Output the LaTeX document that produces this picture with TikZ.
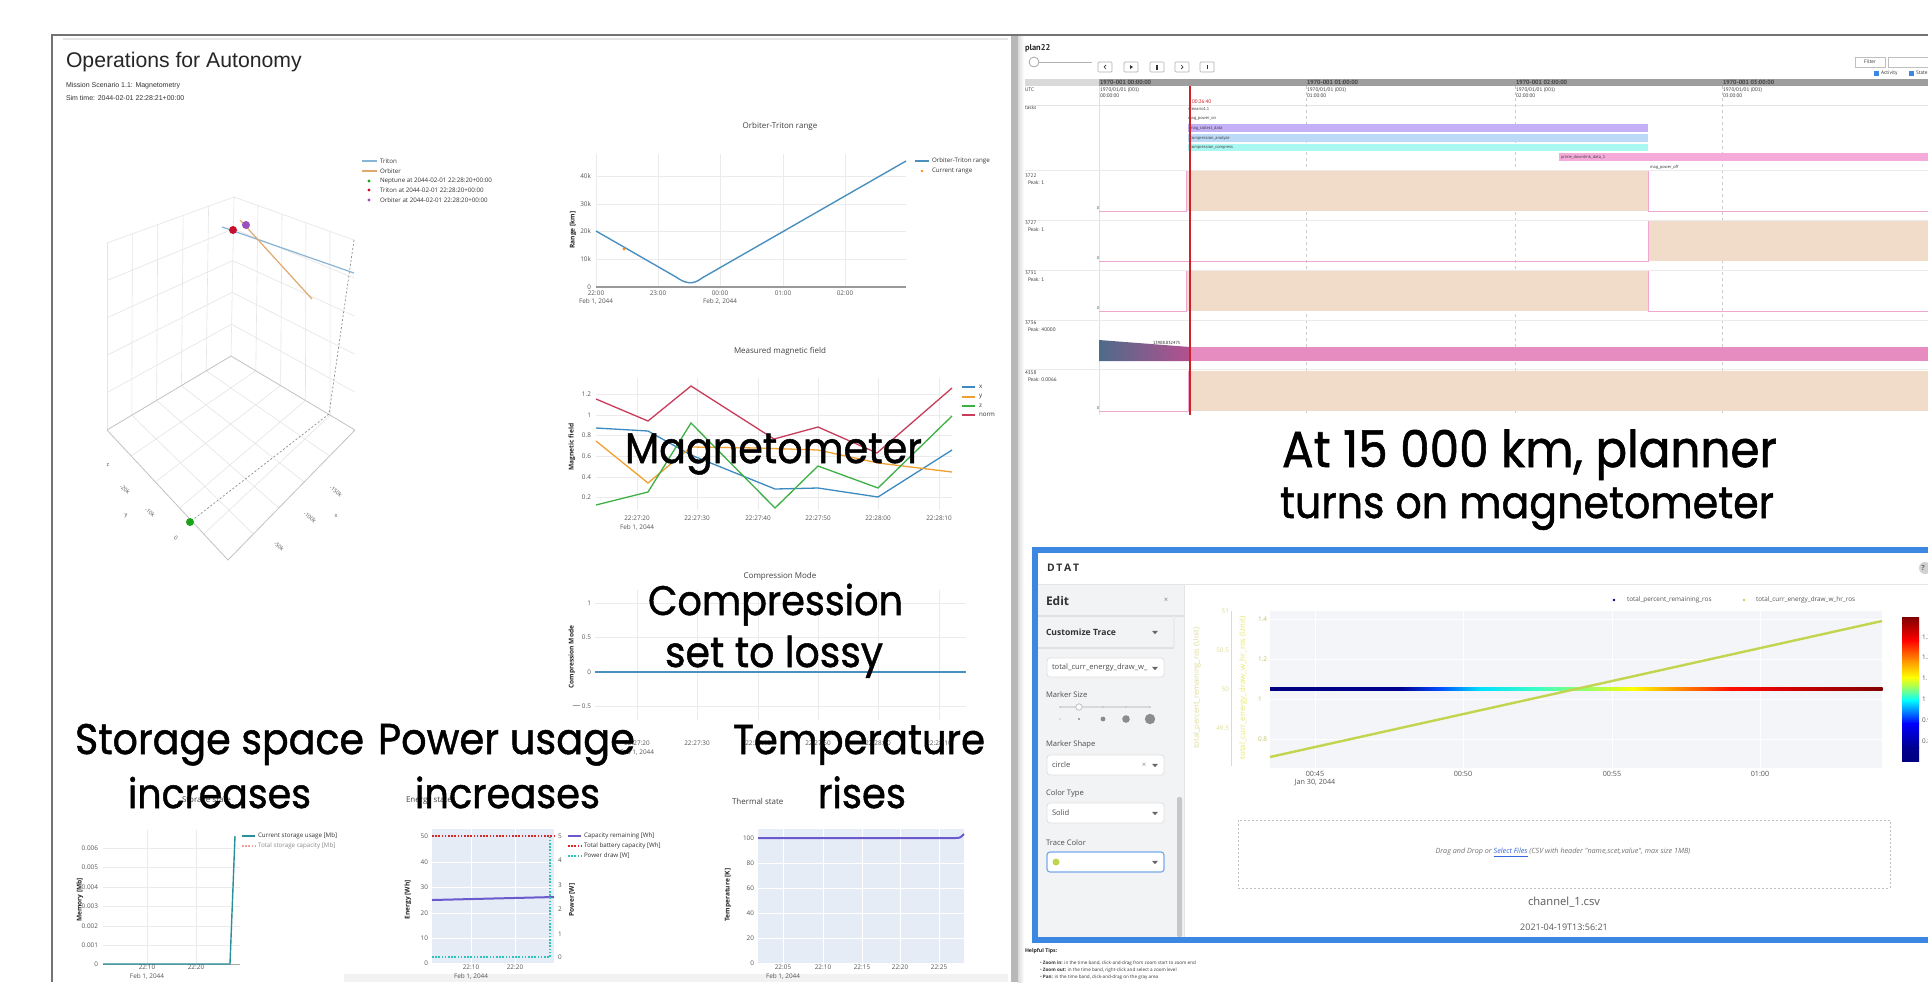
\documentclass[tikz,border=0pt]{standalone}
\usepackage{fontspec}
\setmainfont{Liberation Sans}
\newfontfamily\osans{Open Sans}
\newfontfamily\pop{Poppins}[FakeBold=1.2]
\newfontfamily\pts{PT Sans}
\usepackage{graphicx}
\usetikzlibrary{calc}
\newlength\px \setlength\px{0.5pt}
\newcommand\bigtext[2]{\scalebox{1}[1.08]{\resizebox{#1\px}{!}{\pop #2}}}
\definecolor{gridc}{HTML}{EBEBEB}
\definecolor{tickc}{HTML}{555555}
\definecolor{rangec}{HTML}{4A90BF}
\definecolor{porange}{HTML}{FF8C1A}
\definecolor{mx}{HTML}{3B8BC2}
\definecolor{my}{HTML}{F0A030}
\definecolor{mz}{HTML}{3CB043}
\definecolor{mn}{HTML}{C83C5A}
\definecolor{lav}{HTML}{E5ECF6}
\definecolor{stor}{HTML}{2A8F9A}
\definecolor{salmon}{HTML}{F0A0A0}
\definecolor{capc}{HTML}{6A5ACD}
\definecolor{batc}{HTML}{D62728}
\definecolor{pwc}{HTML}{2EC4B6}
\definecolor{tanc}{HTML}{F0DCC8}
\definecolor{bpurple}{HTML}{C4B0F6}
\definecolor{bblue}{HTML}{BADAF8}
\definecolor{bcyan}{HTML}{AAF8F2}
\definecolor{bpink}{HTML}{F6AADA}
\definecolor{pinkband}{HTML}{E68CC0}
\definecolor{pinkline}{HTML}{F0A8D0}
\definecolor{redline}{HTML}{D0202A}
\definecolor{dtatblue}{HTML}{3C87E2}
\definecolor{sidebar}{HTML}{F2F3F5}
\definecolor{chartbg}{HTML}{F4F5F8}
\definecolor{ygreen}{HTML}{C3D44E}
\definecolor{ylab1}{HTML}{DCDC9A}
\definecolor{ylab2}{HTML}{E8E870}
\definecolor{linkblue}{HTML}{3366DD}
\definecolor{tblue}{HTML}{8AB4D4}
\definecolor{torange}{HTML}{E0A870}
\definecolor{dred}{HTML}{C8102E}
\definecolor{dpurple}{HTML}{9A4FC0}
\definecolor{dgreen}{HTML}{1AA31A}
\definecolor{g1}{HTML}{4D6B8A}
\definecolor{g2}{HTML}{6A4F8F}
\definecolor{g3}{HTML}{B5508F}
\definecolor{j0}{HTML}{000080}
\definecolor{j1}{HTML}{000090}
\definecolor{j2}{HTML}{0050FF}
\definecolor{j3}{HTML}{00E0FF}
\definecolor{j4}{HTML}{40FFC0}
\definecolor{j5}{HTML}{A0FF60}
\definecolor{j6}{HTML}{FFFF00}
\definecolor{j7}{HTML}{FF9000}
\definecolor{j8}{HTML}{FF1000}
\definecolor{j9}{HTML}{D00000}
\definecolor{j10}{HTML}{800000}
\definecolor{jr}{HTML}{FF0000}
\definecolor{jc}{HTML}{00FFFF}
\definecolor{jb}{HTML}{0000FF}
\begin{document}
\begin{tikzpicture}[x=0.5pt,y=-0.5pt,
  every node/.style={inner sep=0pt, outer sep=0pt},
  tk/.style={font=\osans\fontsize{3.2}{3.8}\selectfont, text=tickc},
  lg/.style={font=\osans\fontsize{3.1}{3.6}\selectfont, text=black!80, anchor=west},
  ttl/.style={font=\osans\fontsize{4}{4.6}\selectfont, text=black!75},
  ylab/.style={font=\osans\bfseries\fontsize{3.3}{4}\selectfont, text=black!85, rotate=90},
  gl/.style={draw=gridc, line width=0.3pt},
  wl/.style={draw=white, line width=0.5pt},
  big/.style={anchor=base west, text=black},
  tl/.style={font=\pts\fontsize{2.6}{3}\selectfont, text=black!75, anchor=west},
  tlb/.style={font=\pts\bfseries\fontsize{3}{3.4}\selectfont, text=black!80, anchor=west},
  ui/.style={font=\osans\fontsize{3.8}{4.4}\selectfont, text=black!70, anchor=west},
  uib/.style={font=\osans\bfseries\fontsize{4.3}{5}\selectfont, text=black!80, anchor=west},
  uibox/.style={draw=black!12, fill=white, rounded corners=1.5pt, line width=0.4pt},
  grid3/.style={draw=black!10, line width=0.3pt},
  edge3/.style={draw=black!24, line width=0.4pt},
]
\useasboundingbox (0,0) rectangle (1928,982);
\fill[white] (0,0) rectangle (1928,982);

% ---------------- frame ----------------
\draw[black!55, line width=0.75pt] (52,982) -- (52,35) -- (1928,35);
\draw[black!10, line width=0.8pt] (63,39) -- (1008,39);
\fill[black!5] (344,974) rectangle (1008,982);
\fill[black!28] (1011,36) rectangle (1018,982);
\shade[left color=black!14, right color=white] (1018,36) rectangle (1024,982);

% ---------------- left header ----------------
\node[anchor=base west, font=\fontsize{10.6}{12}\selectfont, text=black!85] (title) at (66,67) {Operations for Autonomy};
\node[anchor=west, font=\fontsize{3.5}{4}\selectfont, text=black!80] (mission) at (66,86) {Mission Scenario 1.1: Magnetometry};
\node[anchor=west, font=\fontsize{3.5}{4}\selectfont, text=black!80] (simtime) at (66,98) {Sim time: 2044-02-01 22:28:21+00:00};

% ---------------- 3D plot ----------------
\coordinate (B0) at (231,356); \coordinate (L0) at (107,430);
\coordinate (R0) at (355,430); \coordinate (F0) at (228,560);
\coordinate (B1) at (234,197); \coordinate (L1) at (107,243);
\coordinate (R1) at (354,240);
\foreach \t in {0.2,0.4,0.6,0.8} {
  \draw[grid3] ($(B0)!\t!(L0)$) -- ($(R0)!\t!(F0)$);
  \draw[grid3] ($(B0)!\t!(R0)$) -- ($(L0)!\t!(F0)$);
  \draw[grid3] ($(B0)!\t!(B1)$) -- ($(L0)!\t!(L1)$);
  \draw[grid3] ($(B0)!\t!(B1)$) -- ($(R0)!\t!(R1)$);
  \draw[grid3] ($(B0)!\t!(L0)$) -- ($(B1)!\t!(L1)$);
  \draw[grid3] ($(B0)!\t!(R0)$) -- ($(B1)!\t!(R1)$);
}
\draw[grid3] (L1) -- (B1) -- (R1);
\draw[grid3] (L1) -- (L0);
\draw[edge3] (L0) -- (B0) -- (R0);
\draw[grid3] (B0) -- (B1);
\draw[edge3] (L0) -- (F0) -- (R0);
\draw[black!45, dash pattern=on 1pt off 1pt, line width=0.35pt] (R1) -- (329,414) -- (190,522);
\foreach \x/\y/\lab in {125/489/-20k,150/512/-10k,176/538/0,336/491/-150k,310/517/-100k,279/546/-50k}
  \node[tk, rotate=-40, font=\osans\fontsize{2.8}{3}\selectfont] at (\x,\y) {\lab};
\node[tk, font=\osans\fontsize{2.8}{3}\selectfont] (ylab3d) at (126,516) {y};
\node[tk, font=\osans\fontsize{2.8}{3}\selectfont] (xlab3d) at (336,516) {x};
\node[tk, font=\osans\fontsize{2.8}{3}\selectfont] (zlab3d) at (108,465) {z};
\draw[tblue, line width=0.6pt] (222,227) -- (354,273);
\draw[torange, line width=0.6pt] (240,220) -- (312,299);
\fill[dred] (233,230) circle (4);
\fill[dpurple] (246,225) circle (4);
\fill[dgreen] (190,522) circle (4);
% legend
\draw[tblue, line width=0.6pt] (362,161) -- (377,161);
\draw[torange, line width=0.6pt] (362,171) -- (377,171);
\fill[dgreen] (369,181) circle (1.6);
\fill[dred] (369,190) circle (1.6);
\fill[dpurple] (369,200) circle (1.6);
\node[lg] (lg1) at (380,161) {Triton};
\node[lg] (lg2) at (380,171) {Orbiter};
\node[lg] (lg3) at (380,181) {Neptune at 2044-02-01 22:28:20+00:00};
\node[lg] (lg4) at (380,190) {Triton at 2044-02-01 22:28:20+00:00};
\node[lg] (lg5) at (380,200) {Orbiter at 2044-02-01 22:28:20+00:00};

% ---------------- Orbiter-Triton range ----------------
\foreach \yy in {259,231,204,176} \draw[gl] (596,\yy) -- (906,\yy);
\foreach \xx in {596,658,720,783,845} \draw[gl] (\xx,154) -- (\xx,287);
\draw[black!40, line width=0.8pt] (596,287) -- (906,287);
\foreach \yy/\lab in {287/0,259/10k,231/20k,204/30k,176/40k} \node[tk, anchor=east] at (591,\yy) {\lab};
\foreach \xx/\lab in {596/22:00,658/23:00,720/00:00,783/01:00,845/02:00} \node[tk] at (\xx,293) {\lab};
\node[tk] (rd1) at (596,301) {Feb 1, 2044};
\node[tk] (rd2) at (720,301) {Feb 2, 2044};
\draw[rangec, line width=0.7pt] (596,231) -- (676,277) .. controls (686,284) and (693,285) .. (702,278) -- (906,161);
\fill[porange] (624,249) circle (1.6);
\node[ttl] (t1) at (780,126) {Orbiter-Triton range};
\node[ylab] (y1) at (573,230) {Range [km]};
\draw[rangec, line width=0.7pt] (915,161) -- (929,161);
\fill[porange] (922,171) circle (1.4);
\node[lg] (l11) at (932,161) {Orbiter-Triton range};
\node[lg] (l12) at (932,171) {Current range};

% ---------------- Measured magnetic field ----------------
\foreach \yy in {394,415,435,456,477,497} \draw[gl] (596,\yy) -- (952,\yy);
\foreach \xx in {637,697,758,818,878,939} \draw[gl] (\xx,378) -- (\xx,510);
\foreach \yy/\lab in {394/1.2,415/1,435/0.8,456/0.6,477/0.4,497/0.2} \node[tk, anchor=east] at (591,\yy) {\lab};
\foreach \xx/\lab in {637/22:27:20,697/22:27:30,758/22:27:40,818/22:27:50,878/22:28:00,939/22:28:10} \node[tk] at (\xx,518) {\lab};
\node[tk] (md1) at (637,527) {Feb 1, 2044};
\node[ttl] (t2) at (780,351) {Measured magnetic field};
\node[ylab] (y2) at (572,447) {Magnetic field};
\draw[mx, line width=0.65pt] (596,428) -- (648,431) -- (691,455) -- (775,489) -- (818,488) -- (878,497) -- (952,450);
\draw[my, line width=0.65pt] (596,441) -- (648,483) -- (691,447) -- (758,448) -- (818,450) -- (878,463) -- (952,472);
\draw[mz, line width=0.65pt] (596,505) -- (648,492) -- (691,423) -- (775,508) -- (818,466) -- (878,488) -- (952,416);
\draw[mn, line width=0.65pt] (596,399) -- (648,421) -- (691,386) -- (774,439) -- (818,427) -- (877,453) -- (952,388);
\draw[mx, line width=0.65pt] (962,387) -- (975,387);
\draw[my, line width=0.65pt] (962,397) -- (975,397);
\draw[mz, line width=0.65pt] (962,406) -- (975,406);
\draw[mn, line width=0.65pt] (962,415) -- (975,415);
\node[lg] (lx) at (979,387) {x};
\node[lg] (ly) at (979,397) {y};
\node[lg] (lz) at (979,406) {z};
\node[lg] (ln) at (979,415) {norm};

% ---------------- Compression mode ----------------
\foreach \yy in {603,637,706} \draw[gl] (595,\yy) -- (966,\yy);
\foreach \xx in {637,697,758,818,878,939} \draw[gl] (\xx,590) -- (\xx,720);
\foreach \yy/\lab in {603/1,637/0.5,672/0,706/{$-$0.5}} \node[tk, anchor=east] at (591,\yy) {\lab};
\foreach \xx/\lab in {637/22:27:20,697/22:27:30,758/22:27:40,818/22:27:50,878/22:28:00,939/22:28:10} \node[tk] at (\xx,743) {\lab};
\node[tk] (cd1) at (637,752) {Feb 1, 2044};
\node[ttl] (t3) at (780,576) {Compression Mode};
\node[ylab] (y3) at (572,657) {Compression Mode};
\draw[rangec, line width=0.8pt] (595,672) -- (966,672);

% ---------------- Storage ----------------
\foreach \yy in {848,867,887,906,926,945} \draw[gl] (103,\yy) -- (240,\yy);
\foreach \xx in {147,196} \draw[gl] (\xx,830) -- (\xx,964);
\draw[black!35, line width=0.5pt] (103,964) -- (240,964);
\foreach \yy/\lab in {848/0.006,867/0.005,887/0.004,906/0.003,926/0.002,945/0.001,964/0} \node[tk, anchor=east] at (98,\yy) {\lab};
\draw[stor, line width=0.7pt] (103,964) -- (230,964) -- (235,836);
\draw[stor, line width=0.7pt] (242,836) -- (255,836);
\draw[salmon, line width=0.6pt, dash pattern=on 0.8pt off 0.8pt] (242,846) -- (255,846);
\node[lg] (sl1) at (258,836) {Current storage usage [Mb]};
\node[lg, text=black!45] (sl2) at (258,846) {Total storage capacity [Mb]};
\node[ylab] (y4) at (80,900) {Memory [Mb]};
\node[tk] at (147,967) {22:10};
\node[tk] at (196,967) {22:20};
\node[tk] (sd1) at (147,976) {Feb 1, 2044};
\node[ttl, anchor=west] (t4) at (182,801) {Storage state};

% ---------------- Energy ----------------
\fill[lav] (432,829) rectangle (554,963);
\foreach \yy in {862,887,913,938} \draw[wl] (432,\yy) -- (554,\yy);
\foreach \xx in {471,515} \draw[wl] (\xx,829) -- (\xx,963);
\draw[batc, line width=0.6pt, dash pattern=on 0.8pt off 0.8pt] (432,836) -- (554,836);
\draw[capc, line width=1pt] (432,900) -- (554,897);
\draw[pwc, line width=0.6pt, dash pattern=on 0.8pt off 0.8pt] (432,957) -- (550,957) -- (550,836);
\foreach \yy/\lab in {836/50,862/40,887/30,913/20,938/10,963/0} \node[tk, anchor=east] at (428,\yy) {\lab};
\foreach \yy/\lab in {836/5,860/4,885/3,909/2,934/1,957/0} \node[tk, anchor=west] at (558,\yy) {\lab};
\node[ylab] (y5) at (408,900) {Energy [Wh]};
\node[ylab] (y6) at (572,900) {Power [W]};
\draw[capc, line width=0.7pt] (568,836) -- (581,836);
\draw[batc, line width=0.6pt, dash pattern=on 0.8pt off 0.8pt] (568,846) -- (581,846);
\draw[pwc, line width=0.6pt, dash pattern=on 0.8pt off 0.8pt] (568,856) -- (581,856);
\node[lg] (el1) at (584,836) {Capacity remaining [Wh]};
\node[lg] (el2) at (584,846) {Total battery capacity [Wh]};
\node[lg] (el3) at (584,856) {Power draw [W]};
\node[tk] at (471,967) {22:10};
\node[tk] at (515,967) {22:20};
\node[tk] (ed1) at (471,976) {Feb 1, 2044};
\node[ttl, anchor=west] (t5) at (406,801) {Energy state};

% ---------------- Thermal ----------------
\fill[lav] (758,829) rectangle (964,963);
\foreach \yy in {863,888,913,938} \draw[wl] (758,\yy) -- (964,\yy);
\foreach \xx in {783,823,862,900,939} \draw[wl] (\xx,829) -- (\xx,963);
\draw[capc, line width=1pt] (758,838) -- (955,838) .. controls (960,838) .. (964,834);
\foreach \yy/\lab in {838/100,863/80,888/60,913/40,938/20,963/0} \node[tk, anchor=east] at (754,\yy) {\lab};
\foreach \xx/\lab in {783/22:05,823/22:10,862/22:15,900/22:20,939/22:25} \node[tk] at (\xx,967) {\lab};
\node[tk] (td1) at (783,976) {Feb 1, 2044};
\node[ylab] (y7) at (728,895) {Temperature [K]};
\node[ttl, anchor=west] (t6) at (732,801) {Thermal state};

% ---------------- big captions (left) ----------------
\node[big] (cap1) at (625,463) {\bigtext{297}{Magnetometer}};
\node[big] (cap2) at (648,615) {\bigtext{255}{Compression}};
\node[big] (cap3) at (665,667) {\bigtext{218}{set to lossy}};
\node[big] (cap4) at (75,754) {\bigtext{289}{Storage space}};
\node[big] (cap5) at (128,808) {\bigtext{183}{increases}};
\node[big] (cap6) at (378,754) {\bigtext{257}{Power usage}};
\node[big] (cap7) at (415,808) {\bigtext{185}{increases}};
\node[big] (cap8) at (733,754) {\bigtext{252}{Temperature}};
\node[big] (cap9) at (818,808) {\bigtext{88}{rises}};

% ---------------- right panel: timeline ----------------
\node[font=\pts\bfseries\fontsize{4.2}{5}\selectfont, anchor=west, text=black!85] (plan) at (1025,48) {plan22};
\draw[black!30, line width=0.5pt] (1034,62) -- (1092,62);
\draw[black!35, fill=white, line width=0.4pt] (1034,62) circle (5);
\foreach \bx in {1105,1131,1157,1182,1207} \draw[black!30, fill=white, line width=0.35pt, rounded corners=0.5pt] (\bx-7,62) rectangle (\bx+7,72);
\draw[black!80, line width=0.35pt] (1106,65) -- (1104,67) -- (1106,69);
\fill[black!80] (1130,65) -- (1133,67) -- (1130,69) -- cycle;
\fill[black!80] (1156,64.5) rectangle (1158,69.5);
\draw[black!80, line width=0.35pt] (1181,65) -- (1183,67) -- (1181,69);
\draw[black!80, line width=0.35pt] (1207,65) -- (1207,69);
\draw[black!25, fill=white, line width=0.35pt] (1855,57) rectangle (1885,67);
\node[tl, anchor=center] (filter) at (1870,62) {Filter};
\draw[black!25, fill=white, line width=0.35pt] (1888,57) rectangle (1935,67);
\fill[dtatblue] (1874,70.5) rectangle (1879,75.5);
\node[tl] (act) at (1881,73) {Activity};
\fill[dtatblue] (1909,70.5) rectangle (1914,75.5);
\node[tl] (sta) at (1916,73) {State};
% header band
\fill[black!15] (1025,79) rectangle (1099,86);
\fill[black!38] (1099,79) rectangle (1928,86);
\foreach \xx/\lab in {1099/00,1306/01,1515/02,1722/03} {
  \node[tlb, text=black!75] at (\xx+1,82.5) {1970-001 \lab:00:00};
  \node[tl] at (\xx+1,90) {1970/01/01 (001)};
  \node[tl] at (\xx+1,96) {\lab:00:00};
}
\node[tl] (utc) at (1025,90) {UTC};
\draw[black!10, line width=0.4pt] (1025,105) -- (1928,105);
\node[tl] (tasks) at (1025,108) {tasks};
\draw[black!12, line width=0.4pt] (1099,86) -- (1099,415);
\foreach \xx in {1306,1515,1722} \draw[black!20, line width=0.35pt, dash pattern=on 1.5pt off 1.5pt] (\xx,86) -- (\xx,415);
\node[tl, font=\pts\fontsize{2.2}{2.6}\selectfont] (sc) at (1188,109) {scenario1.1};
\node[tl, font=\pts\fontsize{2.2}{2.6}\selectfont] (mpon) at (1188,119) {mag\_power\_on};
\fill[bpurple] (1188,124) rectangle (1648,132);
\fill[bblue] (1188,134) rectangle (1648,142);
\fill[bcyan] (1188,144) rectangle (1648,151);
\fill[bpink] (1559,153) rectangle (1928,161);
\node[tl, font=\pts\fontsize{2.2}{2.6}\selectfont] (mcd) at (1190,128) {mag\_collect\_data};
\node[tl, font=\pts\fontsize{2.2}{2.6}\selectfont] (ca) at (1190,138) {compression\_analyze};
\node[tl, font=\pts\fontsize{2.2}{2.6}\selectfont] (cc) at (1190,147.5) {compression\_compress};
\node[tl, font=\pts\fontsize{2.2}{2.6}\selectfont] (pdd) at (1561,157) {prime\_downlink\_data\_1};
\node[tl, font=\pts\fontsize{2.2}{2.6}\selectfont] (mpoff) at (1650,167) {mag\_power\_off};
\foreach \yy in {170,220,270,320,369} \draw[black!8, line width=0.4pt] (1025,\yy) -- (1928,\yy);
% resource rows
\fill[tanc] (1186,171) rectangle (1648,211);
\draw[pinkline, line width=0.4pt] (1099,211) -- (1186,211) -- (1186,171) (1648,171) -- (1648,211) -- (1928,211);
\fill[tanc] (1648,221) rectangle (1928,261);
\draw[pinkline, line width=0.4pt] (1099,261) -- (1648,261) -- (1648,221);
\fill[tanc] (1186,271) rectangle (1648,311);
\draw[pinkline, line width=0.4pt] (1099,311) -- (1186,311) -- (1186,271) (1648,271) -- (1648,311) -- (1928,311);
\shade[left color=g1, middle color=g2, right color=g3] (1099,340) -- (1190,347) -- (1190,361) -- (1099,361) -- cycle;
\fill[pinkband] (1190,347) rectangle (1928,361);
\node[tl, font=\pts\fontsize{2.2}{2.6}\selectfont, text=black!85] (pk) at (1153,343) {13908.832475};
\fill[tanc] (1188,371) rectangle (1928,411);
\draw[pinkline, line width=0.4pt] (1099,411) -- (1188,411) -- (1188,371);
\foreach \yy/\na/\nb in {176/3722/{Peak: 1},223/3727/{Peak: 1},273/3731/{Peak: 1},323/3736/{Peak: 40000},373/4358/{Peak: 0.0066}} {
  \node[tl] at (1025,\yy) {\na};
  \node[tl] at (1028,\yy+6.5) {\nb};
}
\foreach \yy in {208,258,308,408} \node[tl, font=\pts\fontsize{2}{2.4}\selectfont, anchor=east] at (1099,\yy) {0};
\draw[redline, line width=0.8pt] (1190,86) -- (1190,415);
\node[tl, text=redline] (now) at (1192,102) {00:26:40};

% big captions (right)
\node[big] (cap10) at (1282,467) {\bigtext{495}{At 15 000 km, planner}};
\node[big] (cap11) at (1280,518) {\bigtext{494}{turns on magnetometer}};

% ---------------- DTAT ----------------
\fill[white] (1035,550) rectangle (1940,940);
\fill[sidebar] (1038,584) rectangle (1184,937);
\draw[black!10, line width=0.5pt] (1038,584) -- (1928,584);
\draw[black!10, line width=0.5pt] (1184,584) -- (1184,937);
\draw[black!12, line width=0.6pt] (1038,616) -- (1184,616);
\draw[black!12, line width=0.8pt] (1038,648) -- (1174,648);
\draw[black!8, line width=0.6pt] (1174,616) -- (1174,648);
\node[font=\osans\bfseries\fontsize{5.2}{6}\selectfont, anchor=west, text=black!80] (dtat) at (1047,568) {D\,T\,A\,T};
\node[font=\osans\bfseries\fontsize{6}{7}\selectfont, anchor=west, text=black!80] (edit) at (1046,601) {Edit};
\node[ui, anchor=center, text=black!50] (xclose) at (1166,600) {×};
\node[uib] (cust) at (1046,632) {Customize Trace};
\fill[black!60] (1152,630.8) -- (1158,630.8) -- (1155,634.2) -- cycle;
\draw[uibox] (1047,658) rectangle (1164,677);
\node[ui] (dd1) at (1052,668) {total\_curr\_energy\_draw\_w\_};
\fill[black!60] (1152,666.8) -- (1158,666.8) -- (1155,670.2) -- cycle;
\node[ui] (msize) at (1046,695) {Marker Size};
\draw[black!15, line width=0.8pt] (1060,707) -- (1150,707);
\foreach \xx in {1060,1103,1126,1150} \fill[black!25] (\xx,707) circle (0.9);
\draw[black!25, fill=white, line width=0.4pt] (1079,707) circle (3.2);
\fill[black!45] (1060,719) circle (0.6);
\fill[black!45] (1079,719) circle (1.1);
\fill[black!45] (1103,719) circle (2.4);
\fill[black!45] (1126,719) circle (3.8);
\fill[black!45] (1150,719) circle (5.2);
\node[ui] (mshape) at (1046,745) {Marker Shape};
\draw[uibox] (1047,755) rectangle (1164,775);
\node[ui] (circ) at (1052,765) {circle};
\node[ui, anchor=center, text=black!45] (xs) at (1144,765) {×};
\fill[black!60] (1152,763.8) -- (1158,763.8) -- (1155,767.2) -- cycle;
\node[ui] (ctype) at (1046,794) {Color Type};
\draw[uibox] (1047,803) rectangle (1164,823);
\node[ui] (solid) at (1052,813) {Solid};
\fill[black!60] (1152,811.8) -- (1158,811.8) -- (1155,815.2) -- cycle;
\node[ui] (tcol) at (1046,843) {Trace Color};
\draw[uibox, draw=dtatblue!70, line width=0.6pt] (1047,852) rectangle (1164,872);
\fill[ygreen] (1056,862) circle (3.5);
\fill[black!60] (1152,860.8) -- (1158,860.8) -- (1155,864.2) -- cycle;
\fill[black!22, rounded corners=1pt] (1177,797) rectangle (1182,937);
% chart
\fill[chartbg] (1270,611) rectangle (1882,768);
\foreach \xx in {1315,1463,1612,1760} \draw[white, line width=0.5pt] (\xx,611) -- (\xx,768);
\foreach \yy in {619,659,699,739} \draw[white, line width=0.5pt] (1270,\yy) -- (1882,\yy);
\draw[black!15, line width=0.4pt] (1231,611) -- (1231,766);
\foreach \yy/\lab in {611/51,650/50.5,689/50,728/49.5} \node[tk, text=ylab1, anchor=east] at (1229,\yy) {\lab};
\foreach \yy/\lab in {619/1.4,659/1.2,699/1,739/0.8} \node[tk, text=ylab2!80!black!90, anchor=west] at (1258,\yy) {\lab};
\node[font=\osans\fontsize{3.8}{4.4}\selectfont, text=ylab1, rotate=90] (yl1) at (1197,688) {total\_percent\_remaining\_ros (Unit)};
\node[font=\osans\fontsize{3.9}{4.4}\selectfont, text=ylab2, rotate=90] (yl2) at (1243,688) {total\_curr\_energy\_draw\_w\_hr\_ros (Unit)};
\foreach \xa/\ca/\xb/\cb in {1270/j0/1400/j1,1400/j1/1440/j2,1440/j2/1480/j3,1480/j3/1540/j4,1540/j4/1590/j5,1590/j5/1633/j6,1633/j6/1677/j7,1677/j7/1730/j8,1730/j8/1790/j9,1790/j9/1882/j10}
  \shade[left color=\ca, right color=\cb] (\xa,687.6) rectangle (\xb+0.6,690.6);
\draw[ygreen, line width=1.2pt] (1270,757) -- (1882,621);
\fill[j0] (1614,600) circle (1.3);
\node[tk, anchor=west] (leg1) at (1627,600) {total\_percent\_remaining\_ros};
\fill[ygreen] (1744,600) circle (1.3);
\node[tk, anchor=west] (leg2) at (1756,600) {total\_curr\_energy\_draw\_w\_hr\_ros};
\foreach \xx/\lab in {1315/00:45,1463/00:50,1612/00:55,1760/01:00} \node[tk, font=\osans\fontsize{3.6}{4}\selectfont] at (\xx,774) {\lab};
\node[tk, font=\osans\fontsize{3.6}{4}\selectfont] (jan) at (1315,783) {Jan 30, 2044};
% colorbar
\foreach \ya/\ca/\yb/\cb in {617/j10/640/jr,640/jr/660/j7,660/j7/677/j6,677/j6/687/j5,687/j5/700/jc,700/jc/723/jb,723/jb/747/j1,747/j1/761/j0}
  \shade[top color=\ca, bottom color=\cb] (1902,\ya) rectangle (1919,\yb+0.6);
\foreach \yy/\lab in {637/1.3,657/1.2,678/1.1,699/1,720/0.9,741/0.8} \node[tk, anchor=west, font=\osans\fontsize{3.2}{3.6}\selectfont] at (1922,\yy) {\lab};
\fill[black!18] (1925,568) circle (6);
\node[tk, font=\osans\bfseries\fontsize{3.6}{4}\selectfont, text=black!60] (help) at (1923,568) {?};
% upload
\draw[black!25, line width=0.35pt, dash pattern=on 1pt off 1pt] (1238,820) rectangle (1890,888);
\node[font=\osans\itshape\fontsize{3.6}{4.2}\selectfont, text=black!55] (drop) at (1563,853) {Drag and Drop or \textcolor{linkblue}{\underline{Select Files}} (CSV with header "name,scet,value", max size 1MB)};
\node[font=\osans\fontsize{5.6}{6.4}\selectfont, text=black!65] (chan) at (1564,902) {channel\_1.csv};
\node[font=\osans\fontsize{4.5}{5.2}\selectfont, text=black!65] (stamp) at (1564,927) {2021-04-19T13:56:21};
% blue border
\draw[dtatblue, line width=3pt] (1035,550) rectangle (1945,940);
% helpful tips
\node[font=\osans\bfseries\fontsize{2.6}{3}\selectfont, anchor=west, text=black!85] (tips) at (1025,951) {Helpful Tips:};
\node[font=\osans\fontsize{2.3}{2.6}\selectfont, anchor=west, text=black!80] (tip1) at (1040,963) {• \textbf{Zoom in:} in the time band, click-and-drag from zoom start to zoom end};
\node[font=\osans\fontsize{2.3}{2.6}\selectfont, anchor=west, text=black!80] (tip2) at (1040,970) {• \textbf{Zoom out:} in the time band, right-click and select a zoom level};
\node[font=\osans\fontsize{2.3}{2.6}\selectfont, anchor=west, text=black!80] (tip3) at (1040,977) {• \textbf{Pan:} in the time band, click-and-drag on the gray area};
\end{tikzpicture}
\end{document}
